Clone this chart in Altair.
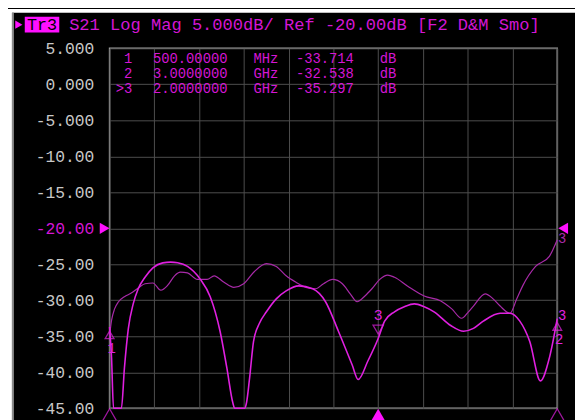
import altair as alt
import pandas as pd

# ---------------- data ----------------
# Trace A (active trace, bright magenta), frequency in GHz, level in dB
FREQ_A = [0.500, 0.511, 0.522, 0.555, 0.566, 0.583, 0.605, 0.632, 0.660, 0.698,
          0.742, 0.797, 0.841, 0.880, 0.935, 1.007, 1.062, 1.117, 1.155, 1.188,
          1.199, 1.254, 1.265, 1.282, 1.304, 1.337, 1.376, 1.431, 1.486, 1.557,
          1.634, 1.706, 1.778, 1.855, 1.888, 1.943, 2.000, 2.036, 2.091, 2.146,
          2.202, 2.257, 2.312, 2.405, 2.477, 2.532, 2.587, 2.681, 2.736, 2.791,
          2.846, 2.906, 2.956, 3.000]
DB_A = [-33.71, -38.0, -45.0, -45.0, -45.0, -39.4, -33.9, -30.5, -28.4, -26.8,
        -25.5, -24.8, -24.7, -24.8, -25.3, -27.1, -29.5, -34.3, -39.4, -44.2,
        -45.0, -45.0, -44.2, -40.8, -35.7, -33.2, -31.6, -29.8, -28.7, -28.0,
        -28.4, -30.2, -34.3, -39.0, -41.0, -38.4, -35.30, -32.9, -31.6, -30.9,
        -30.5, -30.9, -31.6, -33.5, -34.3, -33.9, -32.9, -31.8, -31.8, -32.9,
        -35.7, -41.2, -38.0, -32.54]

# Trace B (second trace, darker magenta)
FREQ_B = [0.500, 0.511, 0.528, 0.550, 0.583, 0.621, 0.660, 0.698, 0.742, 0.786,
          0.825, 0.863, 0.896, 0.935, 0.990, 1.045, 1.084, 1.139, 1.194, 1.249,
          1.309, 1.376, 1.431, 1.486, 1.541, 1.596, 1.651, 1.695, 1.745, 1.800,
          1.844, 1.882, 1.926, 1.965, 2.009, 2.053, 2.091, 2.163, 2.257, 2.350,
          2.411, 2.466, 2.504, 2.532, 2.598, 2.642, 2.681, 2.736, 2.774, 2.807,
          2.879, 2.956, 3.000]
DB_B = [-34.9, -32.8, -31.2, -30.2, -29.5, -29.0, -28.3, -27.7, -27.6, -28.6,
        -27.9, -26.6, -26.1, -26.2, -27.1, -27.1, -26.6, -27.5, -28.2, -27.7,
        -26.0, -24.9, -25.3, -26.6, -27.5, -28.2, -28.4, -27.7, -27.1, -27.7,
        -29.1, -30.2, -29.4, -28.4, -27.1, -26.5, -26.8, -28.0, -29.4, -30.1,
        -31.2, -32.5, -31.6, -30.8, -29.1, -29.8, -30.8, -31.8, -29.8, -28.0,
        -25.3, -23.9, -21.6]

MARKER_ID = ["1", "2", "3"]
MARKER_FREQ = [0.5, 3.0, 2.0]          # GHz
MARKER_DB = [-33.714, -32.538, -35.297]
MARKER_ACTIVE = [False, False, True]

X_TICKS = [0.5, 0.75, 1.0, 1.25, 1.5, 1.75, 2.0, 2.25, 2.5, 2.75, 3.0]
Y_TICKS = [5, 0, -5, -10, -15, -20, -25, -30, -35, -40, -45]
REF_DB = -20
TITLE = "S21 Log Mag 5.000dB/ Ref -20.00dB [F2 D&M Smo]"
TRACE_TAG = "Tr3"

# ---------------- styling ----------------
MAG = "#e020e0"
MAG_DARK = "#a82aa8"
TXT_MAG = "#d416d4"
GRID = "#4e4e4e"
LABEL_GRAY = "#c8c8c8"
MONO = "Liberation Mono"
W, H = 454, 365
NB = "\u00a0"


def fmt_freq(f):
    if f < 1:
        return f"{f * 1000:.5f}", "MHz"
    return f"{f:.7f}", "GHz"


# marker table columns (built from the marker lists)
table_rows = []
for i, (mid, f, d, act) in enumerate(zip(MARKER_ID, MARKER_FREQ, MARKER_DB, MARKER_ACTIVE)):
    fv, unit = fmt_freq(f)
    table_rows.append({"row": i, "prefix": (">" if act else "") + mid, "freq": fv,
                       "unit": unit, "val": f"{d:.3f}", "db_unit": "dB"})
table = pd.DataFrame(table_rows)

trace_a = pd.DataFrame({"f": FREQ_A, "db": DB_A})
trace_b = pd.DataFrame({"f": FREQ_B, "db": DB_B})
markers = pd.DataFrame({"id": MARKER_ID, "f": MARKER_FREQ, "db": MARKER_DB,
                        "active": MARKER_ACTIVE})
dummy = pd.DataFrame({"k": [0]})
ref = pd.DataFrame({"db": [REF_DB]})

label_expr = ("(datum.value < 0 ? '-' : '') + (abs(datum.value) < 10 ? "
              "format(abs(datum.value), '.3f') : format(abs(datum.value), '.2f'))")

x_enc = alt.X("f:Q", scale=alt.Scale(domain=[0.5, 3.0], nice=False, zero=False),
              axis=alt.Axis(values=X_TICKS, labels=False, ticks=False, domain=False,
                            title=None, grid=True))
y_enc = alt.Y("db:Q", scale=alt.Scale(domain=[-45, 5], nice=False, zero=False),
              axis=alt.Axis(values=Y_TICKS, labelExpr=label_expr, ticks=False,
                            domain=False, title=None, grid=True, labelPadding=16,
                            labelColor={"condition": {"test": "datum.value == -20",
                                                      "value": TXT_MAG},
                                        "value": LABEL_GRAY}))

layers = []

# white page strip on the left / top and thin frame line
layers.append(alt.Chart(dummy).mark_rect(color="white").encode(
    x=alt.value(-104), x2=alt.value(-99), y=alt.value(-40), y2=alt.value(380)))
layers.append(alt.Chart(dummy).mark_rect(color="white").encode(
    x=alt.value(-104), x2=alt.value(480), y=alt.value(-40), y2=alt.value(-36)))
layers.append(alt.Chart(dummy).mark_rule(color="#8a8a8a", strokeWidth=2).encode(
    x=alt.value(-98), y=alt.value(-36), y2=alt.value(380)))

# traces
layers.append(alt.Chart(trace_b).mark_line(color=MAG_DARK, strokeWidth=1.2,
                                           interpolate="monotone").encode(x=x_enc, y=y_enc))
layers.append(alt.Chart(trace_a).mark_line(color=MAG, strokeWidth=1.6,
                                           interpolate="monotone").encode(x=x_enc, y=y_enc))

# marker glyphs on the trace
act = alt.datum.active
layers.append(alt.Chart(markers).transform_filter(act).mark_point(
    shape="triangle-down", filled=False, size=110, strokeWidth=1.3, color=MAG,
    yOffset=-9).encode(x=x_enc, y=y_enc))
layers.append(alt.Chart(markers).transform_filter(act).mark_text(
    font=MONO, fontSize=15, color=MAG, dy=-24).encode(x=x_enc, y=y_enc, text="id:N"))
layers.append(alt.Chart(markers).transform_filter(~act).mark_point(
    shape="triangle-up", filled=False, size=80, strokeWidth=1.3, color=MAG,
    yOffset=8).encode(x=x_enc, y=y_enc))
layers.append(alt.Chart(markers).transform_filter(~act).mark_text(
    font=MONO, fontSize=14, color=MAG, dy=22, dx=2).encode(x=x_enc, y=y_enc, text="id:N"))

# marker position indicators at the bottom edge
layers.append(alt.Chart(markers).transform_filter(act).mark_point(
    shape="triangle-up", filled=True, size=300, color="#ff10ff", opacity=1).encode(
    x=x_enc, y=alt.value(373)))
layers.append(alt.Chart(markers).transform_filter(~act).mark_point(
    shape="triangle-up", filled=False, size=300, strokeWidth=1.3, color=MAG).encode(
    x=x_enc, y=alt.value(373)))

# reference level arrows
layers.append(alt.Chart(ref).mark_point(shape="triangle-right", filled=True, size=130,
                                        color="#ff10ff", opacity=1).encode(
    x=alt.value(-5), y=y_enc))
layers.append(alt.Chart(ref).mark_point(shape="triangle-left", filled=True, size=130,
                                        color="#ff10ff", opacity=1).encode(
    x=alt.value(460), y=y_enc))

# small trace labels at the right edge
layers.append(alt.Chart(dummy).mark_text(font=MONO, fontSize=14, color=MAG_DARK).encode(
    x=alt.value(459), y=alt.value(193), text=alt.value("3")))
layers.append(alt.Chart(dummy).mark_text(font=MONO, fontSize=14, color=MAG).encode(
    x=alt.value(459), y=alt.value(271), text=alt.value("3")))

# marker table (one text column per field)
row_y = alt.Y("ry:Q", scale=None)
table_base = alt.Chart(table).transform_calculate(ry="10.5 + 15.5 * datum.row")
for field, xpos, align in [("prefix", 23, "right"), ("freq", 44, "left"),
                           ("unit", 146, "left"), ("val", 189, "left"),
                           ("db_unit", 274, "left")]:
    layers.append(table_base.mark_text(
        font=MONO, fontSize=14, color=TXT_MAG, align=align, baseline="middle").encode(
        x=alt.value(xpos), y=row_y, text=f"{field}:N"))

# header line
layers.append(alt.Chart(dummy).mark_point(shape="triangle-right", filled=True, size=70,
                                          color="#ff10ff", opacity=1).encode(
    x=alt.value(-92), y=alt.value(-24)))
layers.append(alt.Chart(dummy).mark_rect(color="#ff10ff").encode(
    x=alt.value(-86), x2=alt.value(-51), y=alt.value(-32), y2=alt.value(-16)))
layers.append(alt.Chart(dummy).mark_text(font=MONO, fontSize=17, color="black",
                                         align="center", baseline="middle").encode(
    x=alt.value(-68.5), y=alt.value(-24), text=alt.value(TRACE_TAG)))
layers.append(alt.Chart(dummy).mark_text(font=MONO, fontSize=17.3, color=TXT_MAG,
                                         align="left", baseline="middle").encode(
    x=alt.value(-41), y=alt.value(-24), text=alt.value(TITLE.replace(" ", NB))))

chart = alt.layer(*layers).properties(
    width=W, height=H,
    autosize=alt.AutoSizeParams(type="none"),
    padding={"left": 103, "top": 38, "right": 18, "bottom": 9},
    background="black",
).configure_axis(
    labelFont=MONO, labelFontSize=16.5, gridColor=GRID, gridWidth=1, gridOpacity=1,
).configure_view(stroke="#a0a0a0", strokeWidth=1.5)

chart.save("out.html", embed_options={"renderer": "svg", "actions": False})
